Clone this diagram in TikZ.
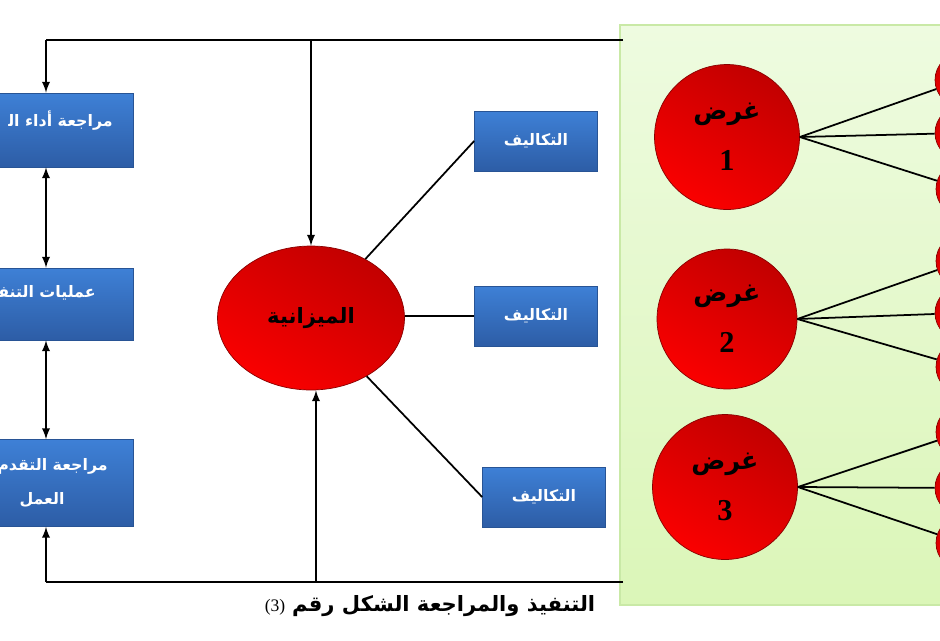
\documentclass[tikz,border=0pt]{standalone}
\usepackage{fontspec}
\usepackage{tikz}
\usetikzlibrary{arrows,shapes.geometric}
\TeXXeTstate=1
\newfontfamily\arabicfont[Script=Arabic]{DejaVu Sans}
\newfontfamily\numfont{Liberation Serif}
\definecolor{boxtop}{HTML}{3E80D6}
\definecolor{boxbot}{HTML}{2D5DA6}
\definecolor{paneltop}{HTML}{EEFBE0}
\definecolor{panelbot}{HTML}{DBF6B8}
\definecolor{panelrim}{HTML}{C9E9A6}
\definecolor{balldark}{HTML}{C20000}
\definecolor{balllight}{HTML}{FA0000}

\begin{document}
\begin{tikzpicture}[x=0.02cm, y=-0.02cm]
% Node styles ---
\tikzstyle{task} = [rectangle, minimum width = 3.48cm, top color = boxtop, bottom color = boxbot, draw = boxbot!90!black, thin] % Left process boxes
\tikzstyle{tasktxt} = [inner sep = 0pt, text = white, font = \arabicfont\bfseries\small] % Text in the left boxes
\tikzstyle{cost} = [rectangle, minimum width = 2.46cm, minimum height = 1.2cm, top color = boxtop, bottom color = boxbot, draw = boxbot!90!black, thin, text = white, font = \arabicfont\bfseries\small] % Cost boxes
\tikzstyle{budg} = [ellipse, minimum width = 3.74cm, minimum height = 2.88cm, top color = balldark, bottom color = balllight, shading angle = -30, draw = balldark!70!black, thin, font = \arabicfont\bfseries\large] % Budget
\tikzstyle{ball} = [circle, minimum size = 2.9cm, top color = balldark, bottom color = balllight, shading angle = -30, draw = balldark!70!black, thin, align = center] % Goals
\tikzstyle{dot} = [circle, minimum size = 1.08cm, top color = balldark, bottom color = balllight, draw = balldark!70!black, thin] % Small circles
\tikzstyle{panel} = [rectangle, minimum width = 6.8cm, minimum height = 11.6cm, top color = paneltop, bottom color = panelbot, draw = panelrim, thick] % Green background
% Edge styles
\tikzstyle{con} = [-latex, line width = 1.1pt] % Arrows
\tikzstyle{cor} = [latex-latex, line width = 1.1pt] % Two-way arrows
\tikzstyle{lin} = [line width = 1pt] % Plain lines
% Begin Figure ---
\clip (0,0) rectangle (940,640);
% Nodes
\node at (790,315) [panel] (goals) {};
\node at (46,130) [task, minimum height = 1.48cm] (rev) {};
\node at (46,304) [task, minimum height = 1.44cm] (exec) {};
\node at (46,483) [task, minimum height = 1.74cm] (prog) {};
\node at (113,121) [tasktxt, anchor = east] (revtxt) {\beginR مراجعة أداء ال‍\endR};
\node at (96,293) [tasktxt, anchor = east] (exectxt) {\beginR عمليات التنف‍\endR};
\node at (108,466) [tasktxt, anchor = east] (progtxt) {\beginR مراجعة التقدم\endR};
\node at (42,500) [tasktxt] (progtxtb) {\beginR العمل\endR};
\node at (311,318) [budg] (budget) {\beginR الميزانية\endR};
\node at (536,141) [cost] (cost1) {\beginR التكاليف\endR};
\node at (536,316) [cost] (cost2) {\beginR التكاليف\endR};
\node at (544,497) [cost] (cost3) {\beginR التكاليف\endR};
\node at (727,137) [ball] (g1) {{\arabicfont\bfseries\Large\beginR غرض\endR}\\[13pt]{\numfont\bfseries\LARGE 1}};
\node at (727,319) [ball, minimum size = 2.8cm] (g2) {{\arabicfont\bfseries\Large\beginR غرض\endR}\\[13pt]{\numfont\bfseries\LARGE 2}};
\node at (725,487) [ball] (g3) {{\arabicfont\bfseries\Large\beginR غرض\endR}\\[13pt]{\numfont\bfseries\LARGE 3}};
\node at (962,80) [dot] (s11) {};
\node at (962,133) [dot] (s12) {};
\node at (963,189) [dot] (s13) {};
\node at (963,261) [dot] (s21) {};
\node at (962,313) [dot] (s22) {};
\node at (963,367) [dot] (s23) {};
\node at (963,432) [dot] (s31) {};
\node at (962,488) [dot] (s32) {};
\node at (963,543) [dot] (s33) {};
\node at (430,606) [font = \large] (caption) {{\numfont\normalsize (3)} {\arabicfont\bfseries\beginR التنفيذ والمراجعة الشكل رقم\endR}};
% Corners of the feedback loop
\coordinate (tr) at (623,40);
\coordinate (tl) at (46,40);
\coordinate (tm) at (311,40);
\coordinate (br) at (623,582);
\coordinate (bl) at (46,582);
\coordinate (bm) at (316,582);
% Paths
\draw [lin] (tr) -- (tl);
\draw [con] (tl) -- (rev.north);
\draw [con] (tm) -- (budget.north);
\draw [lin] (br) -- (bl);
\draw [con] (bl) -- (prog.south);
\draw [con] (bm) -- (bm |- budget.south);
\draw [cor] (rev) -- (exec);
\draw [cor] (exec) -- (prog);
\path (budget) edge [lin] (cost1.west);
\path (budget.east |- cost2.west) edge [lin] (cost2.west);
\path (budget) edge [lin] (cost3.west);
\path (g1.east) edge [lin] (s11);
\path (g1.east) edge [lin] (s12);
\path (g1.east) edge [lin] (s13);
\path (g2.east) edge [lin] (s21);
\path (g2.east) edge [lin] (s22);
\path (g2.east) edge [lin] (s23);
\path (g3.east) edge [lin] (s31);
\path (g3.east) edge [lin] (s32);
\path (g3.east) edge [lin] (s33);
\end{tikzpicture}
\end{document}
